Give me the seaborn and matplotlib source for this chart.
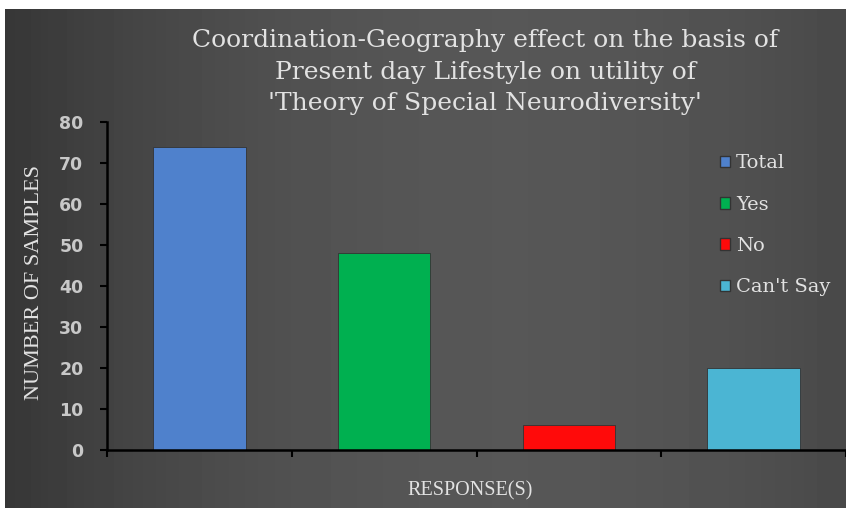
import numpy as np
import pandas as pd
import matplotlib
matplotlib.use("Agg")
import matplotlib.pyplot as plt
import seaborn as sns
from matplotlib.patches import Patch

# dados do grafico
categorias = ["Total", "Yes", "No", "Can't Say"]
amostras = [74, 48, 6, 20]
cores = ["#4f81cc", "#00b050", "#ff0a0a", "#4bb5d3"]

titulo = ("Coordination-Geography effect on the basis of\n"
          "Present day Lifestyle on utility of\n"
          "'Theory of Special Neurodiversity'")

df = pd.DataFrame({"resposta": categorias, "n": amostras})

sns.set_style("dark")
plt.rcParams["font.family"] = ["DejaVu Serif", "Liberation Serif"]
texto = "#e2e2e2"

fig = plt.figure(figsize=(8.46, 5.08), dpi=100, facecolor="white")

# fundo escuro com gradiente
bg = fig.add_axes([5 / 846, 0, 1 - 5 / 846, 1 - 9 / 508], zorder=-10)
x = np.linspace(0, 1, 256)
grad = 0.34 - (x - 0.6) ** 2 * 0.35
bg.imshow(grad[np.newaxis, :], aspect="auto", cmap="gray", vmin=0, vmax=1,
          extent=[0, 1, 0, 1])
bg.set_axis_off()

ax = fig.add_axes([107 / 846, 1 - 450 / 508, 1 - 107 / 846, (450 - 122) / 508])
ax.patch.set_alpha(0)
sns.barplot(data=df, x="resposta", y="n", hue="resposta", palette=cores,
            width=0.5, saturation=1, legend=False, ax=ax,
            edgecolor="#333333", linewidth=0.6)

ax.set_ylim(0, 80)
ax.set_xlim(-0.5, 3.5)
ax.set_yticks(range(0, 81, 10))
ax.set_xticks([-0.5, 0.5, 1.5, 2.5, 3.5])
ax.set_xticklabels([])
ax.tick_params(axis="both", direction="out", length=5, width=1.5, color="black",
               bottom=True, left=True)
ax.tick_params(axis="y", pad=12)
for lab in ax.get_yticklabels():
    lab.set_fontfamily("DejaVu Sans")
    lab.set_fontweight("bold")
    lab.set_fontsize(12.5)
    lab.set_color("#c8c8c8")
for s in ["top", "right"]:
    ax.spines[s].set_visible(False)
for s in ["left", "bottom"]:
    ax.spines[s].set_color("black")
    ax.spines[s].set_linewidth(1.8)
ax.grid(False)
ax.set_xlabel("")
ax.set_ylabel("")

fig.text(485 / 846, 1 - 72 / 508, titulo, ha="center", va="center",
         fontsize=18, color=texto, linespacing=1.45)
fig.text(470 / 846, 1 - 491 / 508, "RESPONSE(S)", ha="center", va="center",
         fontsize=14.5, color=texto, family="Liberation Serif")
fig.text(35 / 846, 1 - 283 / 508, "NUMBER OF SAMPLES", ha="center", va="center",
         rotation=90, fontsize=16, color=texto, family="Liberation Serif")

handles = [Patch(facecolor=c, edgecolor="#333333", label=l) for c, l in zip(cores, categorias)]
leg = fig.legend(handles=handles, loc="upper left", bbox_to_anchor=(702 / 846, 1 - 137 / 508),
                 frameon=False, fontsize=14, handlelength=0.55, handleheight=0.55,
                 handletextpad=0.3, labelspacing=1.2, labelcolor=texto)

fig.savefig("out.png", dpi=100, facecolor=fig.get_facecolor())
